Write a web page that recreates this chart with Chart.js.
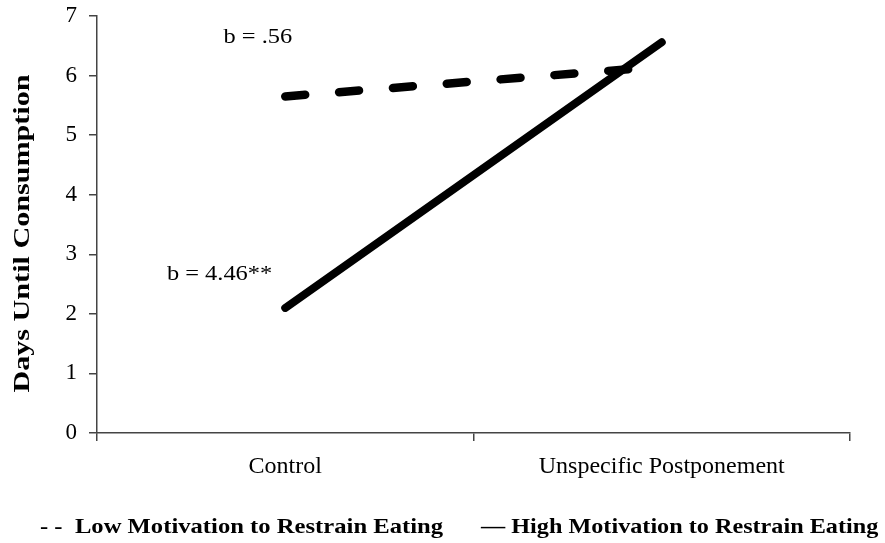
<!DOCTYPE html>
<html>
<head>
<meta charset="utf-8">
<script src="https://cdn.jsdelivr.net/npm/chart.js@4"></script>
<style>
  html, body { margin: 0; padding: 0; background: #fff; }
</style>
</head>
<body>
<canvas id="chart" width="885" height="543"></canvas>
<script>
// data
const categories = ['Control', 'Unspecific Postponement'];
const lowMotivation = [5.65, 6.15];
const highMotivation = [2.1, 6.56];
const yMin = 0;
const yMax = 7;
const yTitle = 'Days Until Consumption';
const slopeLabels = ['b = .56', 'b = 4.46**'];
const slopeLabelValues = [6.64, 2.66];
const legendLabels = ['- -  Low Motivation to Restrain Eating', '\u2014 High Motivation to Restrain Eating'];

const serif = '"Liberation Serif", "Times New Roman", serif';

// the source figure's text is a bit wider than plain Times, so stretch it
function wideText(ctx, text, x, y, sx) {
  ctx.save();
  ctx.translate(x, y);
  ctx.scale(sx, 1);
  ctx.fillText(text, 0, 0);
  ctx.restore();
}

// axis title, slope labels and legend text drawn on the canvas
const textPlugin = {
  id: 'textPlugin',
  afterDraw(chart) {
    const ctx = chart.ctx;
    const x = chart.scales.x;
    const y = chart.scales.y;
    const cx = x.getPixelForValue(0);
    ctx.save();
    ctx.fillStyle = '#000';

    // y title
    ctx.font = 'bold 23px ' + serif;
    ctx.textAlign = 'center';
    ctx.textBaseline = 'middle';
    const tw = ctx.measureText(yTitle).width;
    ctx.save();
    ctx.translate(23, (y.top + y.bottom) / 2 + 9);
    ctx.rotate(-Math.PI / 2);
    ctx.scale(318 / tw, 1);
    ctx.fillText(yTitle, 0, 0);
    ctx.restore();

    // slope annotations
    ctx.font = '22px ' + serif;
    ctx.textAlign = 'right';
    wideText(ctx, slopeLabels[0], cx + 7, y.getPixelForValue(slopeLabelValues[0]), 1.11);
    wideText(ctx, slopeLabels[1], cx - 13, y.getPixelForValue(slopeLabelValues[1]), 1.11);

    // legend
    ctx.font = 'bold 22px ' + serif;
    ctx.textAlign = 'left';
    ctx.textBaseline = 'alphabetic';
    wideText(ctx, legendLabels[0], 40, 533, 1.12);
    wideText(ctx, legendLabels[1], 481, 533, 1.1);
    ctx.restore();
  }
};

new Chart(document.getElementById('chart'), {
  type: 'line',
  data: {
    labels: categories,
    datasets: [
      {
        label: 'Low Motivation to Restrain Eating',
        data: lowMotivation,
        borderColor: '#000',
        borderWidth: 8.5,
        borderDash: [20, 34],
        borderCapStyle: 'round',
        pointRadius: 0,
        tension: 0
      },
      {
        label: 'High Motivation to Restrain Eating',
        data: highMotivation,
        borderColor: '#000',
        borderWidth: 8,
        borderCapStyle: 'round',
        pointRadius: 0,
        tension: 0
      }
    ]
  },
  options: {
    responsive: false,
    animation: false,
    devicePixelRatio: 1,
    layout: { padding: { top: 16, right: 35, left: 0, bottom: 0 } },
    plugins: {
      legend: { display: false },
      tooltip: { enabled: false }
    },
    scales: {
      x: {
        offset: true,
        grid: { offset: true, drawOnChartArea: false, tickLength: 8, color: '#444', lineWidth: 1.5 },
        border: { color: '#444', width: 1.5 },
        ticks: { color: '#000', padding: 11, font: { family: serif, size: 24 } },
        afterFit(scale) { scale.height = 110; }
      },
      y: {
        min: yMin,
        max: yMax,
        grid: { drawOnChartArea: false, tickLength: 8, color: '#444', lineWidth: 1.5 },
        border: { color: '#444', width: 1.5 },
        ticks: { stepSize: 1, color: '#000', padding: 12, font: { family: serif, size: 23 } },
        afterFit(scale) {
          scale.width = 97;
          scale.paddingTop = 0;
          scale.paddingBottom = 0;
        }
      }
    }
  },
  plugins: [textPlugin]
});
</script>
</body>
</html>
